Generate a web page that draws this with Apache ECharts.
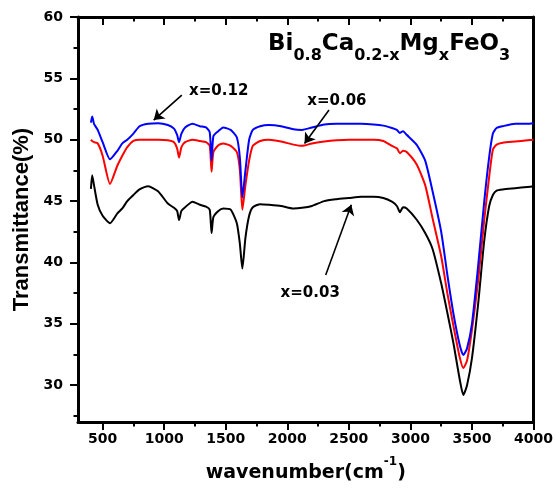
<!DOCTYPE html>
<html>
<head>
<meta charset="utf-8">
<script src="https://cdn.jsdelivr.net/npm/echarts@6/dist/echarts.min.js"></script>
<style>
  html, body { margin: 0; padding: 0; background: #fff; }
  #chart { width: 556px; height: 488px; }
</style>
</head>
<body>
<div id="chart"></div>
<script>
// FTIR spectra of Bi0.8Ca0.2-xMgxFeO3
const wavenumber = [405, 415, 430, 460, 500, 560, 620, 660, 700, 750, 800, 870, 950, 1030, 1080, 1105, 1121, 1140, 1170, 1230,
  1290, 1340, 1370, 1385, 1400, 1440, 1480, 1540, 1590, 1615, 1635, 1660, 1690, 1720, 1780, 1850, 1950, 2050, 2120, 2200,
  2300, 2400, 2500, 2600, 2700, 2780, 2850, 2890, 2915, 2940, 2970, 3050, 3120, 3180, 3250, 3300, 3350, 3400, 3430, 3460,
  3500, 3550, 3600, 3640, 3670, 3700, 3750, 3850, 3950, 4000];

const x003 = [46.0, 47.1, 46.3, 44.7, 43.8, 43.2, 44.0, 44.4, 45.0, 45.5, 45.95, 46.2, 45.8, 44.8, 44.45, 44.2, 43.45, 44.2, 44.5, 44.95,
  44.7, 44.55, 44.3, 42.4, 43.7, 44.2, 44.4, 44.3, 43.2, 41.5, 39.5, 42.0, 43.8, 44.5, 44.75, 44.7, 44.6, 44.4, 44.45, 44.6,
  45.0, 45.15, 45.25, 45.35, 45.35, 45.25, 44.95, 44.6, 44.1, 44.5, 44.4, 43.5, 42.4, 41.1, 38.3, 35.9, 33.4, 30.5, 29.2, 30.0,
  32.2, 36.6, 41.8, 44.6, 45.5, 45.85, 45.95, 46.05, 46.15, 46.2];

const x006 = [50.0, 49.9, 49.8, 49.7, 48.7, 46.4, 47.9, 48.7, 49.4, 49.9, 50.0, 50.0, 50.0, 49.95, 49.8, 49.3, 48.55, 49.4, 49.8, 50.0,
  49.9, 49.8, 49.5, 47.4, 49.0, 49.55, 49.7, 49.5, 49.0, 47.5, 44.3, 46.3, 48.3, 49.5, 49.9, 50.0, 49.85, 49.6, 49.5, 49.7,
  49.85, 49.95, 50.0, 50.0, 50.0, 49.9, 49.5, 49.3, 48.9, 49.1, 49.0, 48.0, 46.3, 43.6, 40.5, 37.5, 34.8, 32.3, 31.4, 32.0,
  34.5, 38.5, 43.5, 47.0, 49.2, 49.6, 49.75, 49.85, 49.95, 50.0];

const x012 = [51.4, 51.9, 51.3, 50.8, 49.8, 48.4, 49.1, 49.7, 50.0, 50.5, 51.1, 51.3, 51.35, 51.2, 50.9, 50.4, 49.8, 50.5, 51.0, 51.3,
  51.1, 51.0, 50.6, 48.3, 50.3, 50.7, 51.0, 50.8, 50.2, 48.5, 45.3, 47.5, 50.0, 50.8, 51.1, 51.2, 51.1, 50.85, 50.8, 51.0,
  51.25, 51.3, 51.3, 51.3, 51.25, 51.15, 50.95, 50.8, 50.55, 50.7, 50.4, 49.6, 48.3, 45.8, 42.5, 39.0, 35.8, 33.3, 32.45, 33.0,
  35.0, 39.7, 45.0, 48.6, 50.5, 50.95, 51.1, 51.3, 51.3, 51.35];

const xMajorTicks = [500, 1000, 1500, 2000, 2500, 3000, 3500, 4000];
const xMinorTicks = [750, 1250, 1750, 2250, 2750, 3250, 3750];
const yMajorTicks = [30, 35, 40, 45, 50, 55, 60];
const yMinorTicks = [27.5, 32.5, 37.5, 42.5, 47.5, 52.5, 57.5];

// labels with arrows, in data coordinates
const notes = [
  { text: "x=0.12", at: [1443, 53.97], from: [1143, 53.64], to: [915, 51.6] },
  { text: "x=0.06", at: [2403, 53.15], from: [2339, 52.42], to: [2140, 49.7] },
  { text: "x=0.03", at: [2186, 37.5], from: [2312, 38.97], to: [2520, 44.7] },
];

const bold = { fontFamily: "DejaVu Sans", fontWeight: "bold", color: "#000" };

function pairs(ys) {
  return wavenumber.map((w, i) => [w, ys[i]]);
}

function xAxisDef(pos, ticks, len, extra) {
  return Object.assign({
    type: "value",
    position: pos,
    min: 300,
    max: 4000,
    splitLine: { show: false },
    axisLine: { show: false },
    axisLabel: { show: false },
    axisTick: { show: true, inside: pos === "top", length: len, customValues: ticks, lineStyle: { color: "#000", width: 2 } },
  }, extra || {});
}

function yAxisDef(ticks, len, extra) {
  return Object.assign({
    type: "value",
    position: "left",
    min: 27,
    max: 60,
    splitLine: { show: false },
    axisLine: { show: false },
    axisLabel: { show: false },
    axisTick: { show: true, length: len, customValues: ticks, lineStyle: { color: "#000", width: 2 } },
  }, extra || {});
}

const axisLine = { show: true, onZero: false, lineStyle: { color: "#000", width: 3 } };

const chart = echarts.init(document.getElementById("chart"));

chart.setOption({
  animation: false,
  backgroundColor: "#fff",
  title: {
    left: 268,
    top: 33,
    padding: 0,
    text: "{m|Bi}{s|0.8}{m|Ca}{s|0.2-x}{m|Mg}{s|x}{m|FeO}{s|3}",
    textStyle: {
      rich: {
        m: Object.assign({ fontSize: 23, verticalAlign: "top" }, bold),
        s: Object.assign({ fontSize: 16, verticalAlign: "top", padding: [15, 0, 0, 0] }, bold),
      },
    },
  },
  grid: { left: 78, right: 19, top: 17, bottom: 66, containLabel: false },
  xAxis: [
    xAxisDef("bottom", xMajorTicks, 8, {
      axisLine: axisLine,
      axisLabel: Object.assign({ show: true, fontSize: 14, margin: 10, customValues: xMajorTicks, formatter: (v) => String(v) }, bold),
      name: "{m|wavenumber(cm}{s|-1}{m|)}",
      nameLocation: "middle",
      nameGap: 34,
      nameTextStyle: {
        rich: {
          m: Object.assign({ fontSize: 19, verticalAlign: "top", padding: [8, 0, 0, 0] }, bold),
          s: Object.assign({ fontSize: 12, verticalAlign: "top" }, bold),
        },
      },
    }),
    xAxisDef("bottom", xMinorTicks, 4.5),
    xAxisDef("top", xMajorTicks, 8, { axisLine: axisLine }),
    xAxisDef("top", xMinorTicks, 4.5),
  ],
  yAxis: [
    yAxisDef(yMajorTicks, 8, {
      axisLine: axisLine,
      axisLabel: Object.assign({ show: true, fontSize: 14, margin: 15, customValues: yMajorTicks, formatter: (v) => String(v) }, bold),
      name: "Transmittance(%)",
      nameLocation: "middle",
      nameGap: 44,
      nameTextStyle: { fontFamily: "Liberation Sans", fontWeight: "bold", fontSize: 22, color: "#000" },
    }),
    yAxisDef(yMinorTicks, 4.5),
    yAxisDef([], 0, { position: "right", axisLine: axisLine, axisTick: { show: false } }),
  ],
  series: [
    {
      name: "x=0.03",
      type: "line",
      data: pairs(x003),
      showSymbol: false,
      smooth: 0.2,
      lineStyle: { color: "#000000", width: 2 },
      markLine: {
        silent: true,
        symbol: ["none", "arrow"],
        symbolSize: 10,
        lineStyle: { color: "#000", width: 1.6, type: "solid" },
        label: { show: false },
        data: notes.map((n) => [{ coord: n.from }, { coord: n.to }]),
      },
      markPoint: {
        silent: true,
        symbol: "circle",
        symbolSize: 1,
        itemStyle: { color: "transparent" },
        label: Object.assign({ show: true, position: "inside", fontSize: 15, formatter: (p) => p.name }, bold),
        data: notes.map((n) => ({ name: n.text, coord: n.at })),
      },
    },
    {
      name: "x=0.06",
      type: "line",
      data: pairs(x006),
      showSymbol: false,
      smooth: 0.2,
      lineStyle: { color: "#ff0000", width: 2 },
    },
    {
      name: "x=0.12",
      type: "line",
      data: pairs(x012),
      showSymbol: false,
      smooth: 0.2,
      lineStyle: { color: "#0000ff", width: 2 },
    },
  ],
});

window.addEventListener("resize", () => chart.resize());
</script>
</body>
</html>
